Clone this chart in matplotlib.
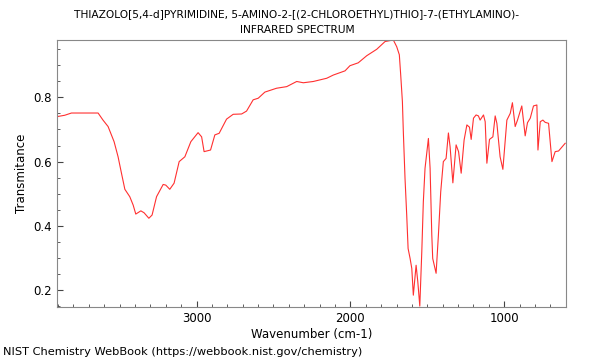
import matplotlib
matplotlib.use("Agg")
import matplotlib.pyplot as plt
from matplotlib.ticker import MultipleLocator

# spectrum
wavenumber = [3904, 3857, 3813, 3640, 3608, 3575, 3536, 3510, 3488, 3466,
              3434, 3412, 3395, 3362, 3341, 3310, 3289, 3260, 3217, 3200,
              3174, 3146, 3113, 3076, 3037, 2990, 2967, 2951, 2909, 2881,
              2853, 2805, 2762, 2707, 2675, 2632, 2599, 2556, 2480, 2414,
              2349, 2306, 2241, 2154, 2111, 2035, 2003, 1949, 1894, 1829,
              1775, 1721, 1699, 1682, 1673, 1662, 1656, 1645, 1634, 1625,
              1612, 1601, 1591, 1573, 1562, 1549, 1536, 1526, 1515, 1493,
              1482, 1471, 1465, 1443, 1428, 1413, 1396, 1378, 1363, 1352,
              1334, 1313, 1297, 1280, 1261, 1243, 1226, 1215, 1200, 1183,
              1168, 1157, 1135, 1124, 1113, 1096, 1074, 1059, 1048, 1027,
              1009, 983, 961, 947, 929, 914, 886, 864, 849, 831,
              810, 788, 781, 766, 749, 734, 712, 690, 669, 647, 604]
transmittance = [0.740, 0.744, 0.751, 0.751, 0.729, 0.709, 0.662, 0.615, 0.564, 0.514,
                 0.491, 0.465, 0.437, 0.447, 0.441, 0.424, 0.434, 0.491, 0.529, 0.527,
                 0.514, 0.533, 0.600, 0.615, 0.662, 0.690, 0.677, 0.631, 0.636, 0.683,
                 0.688, 0.732, 0.747, 0.748, 0.757, 0.792, 0.797, 0.816, 0.828, 0.833,
                 0.849, 0.845, 0.849, 0.859, 0.869, 0.882, 0.898, 0.907, 0.929, 0.949,
                 0.973, 0.978, 0.957, 0.932, 0.869, 0.786, 0.693, 0.548, 0.434, 0.330,
                 0.299, 0.268, 0.185, 0.278, 0.227, 0.151, 0.320, 0.475, 0.579, 0.672,
                 0.579, 0.372, 0.299, 0.253, 0.372, 0.506, 0.600, 0.610, 0.689, 0.646,
                 0.534, 0.652, 0.631, 0.564, 0.667, 0.714, 0.707, 0.669, 0.735, 0.745,
                 0.742, 0.729, 0.745, 0.724, 0.595, 0.669, 0.677, 0.742, 0.719, 0.615,
                 0.576, 0.729, 0.750, 0.783, 0.709, 0.729, 0.773, 0.680, 0.721, 0.735,
                 0.773, 0.776, 0.636, 0.724, 0.729, 0.722, 0.719, 0.600, 0.631, 0.633, 0.657]

fig = plt.figure(figsize=(6, 3.6), dpi=100)
ax = fig.add_axes([0.095, 0.147, 0.848, 0.742])

ax.plot(wavenumber, transmittance, color="#ff3030", lw=0.8)

ax.set_xlim(3907, 600)
ax.set_ylim(0.148, 0.978)
ax.xaxis.set_major_locator(MultipleLocator(1000))
ax.xaxis.set_minor_locator(MultipleLocator(100))
ax.yaxis.set_major_locator(MultipleLocator(0.2))
ax.yaxis.set_minor_locator(MultipleLocator(0.05))
ax.tick_params(which="both", direction="in", labelsize=8.5, color="#444444")
ax.tick_params(which="major", length=4)
ax.tick_params(which="minor", length=2.5)
for sp in ax.spines.values():
    sp.set_color("#888888")

ax.set_xlabel("Wavenumber (cm-1)", fontsize=8.5, labelpad=2)
ax.set_ylabel("Transmitance", fontsize=8.5)

fig.text(0.495, 0.962, "THIAZOLO[5,4-d]PYRIMIDINE, 5-AMINO-2-[(2-CHLOROETHYL)THIO]-7-(ETHYLAMINO)-",
         ha="center", va="center", fontsize=7.7)
fig.text(0.495, 0.917, "INFRARED SPECTRUM", ha="center", va="center", fontsize=7.7)
fig.text(0.005, 0.022, "NIST Chemistry WebBook (https://webbook.nist.gov/chemistry)",
         ha="left", va="center", fontsize=8.2)

fig.savefig("out.png", dpi=100)
